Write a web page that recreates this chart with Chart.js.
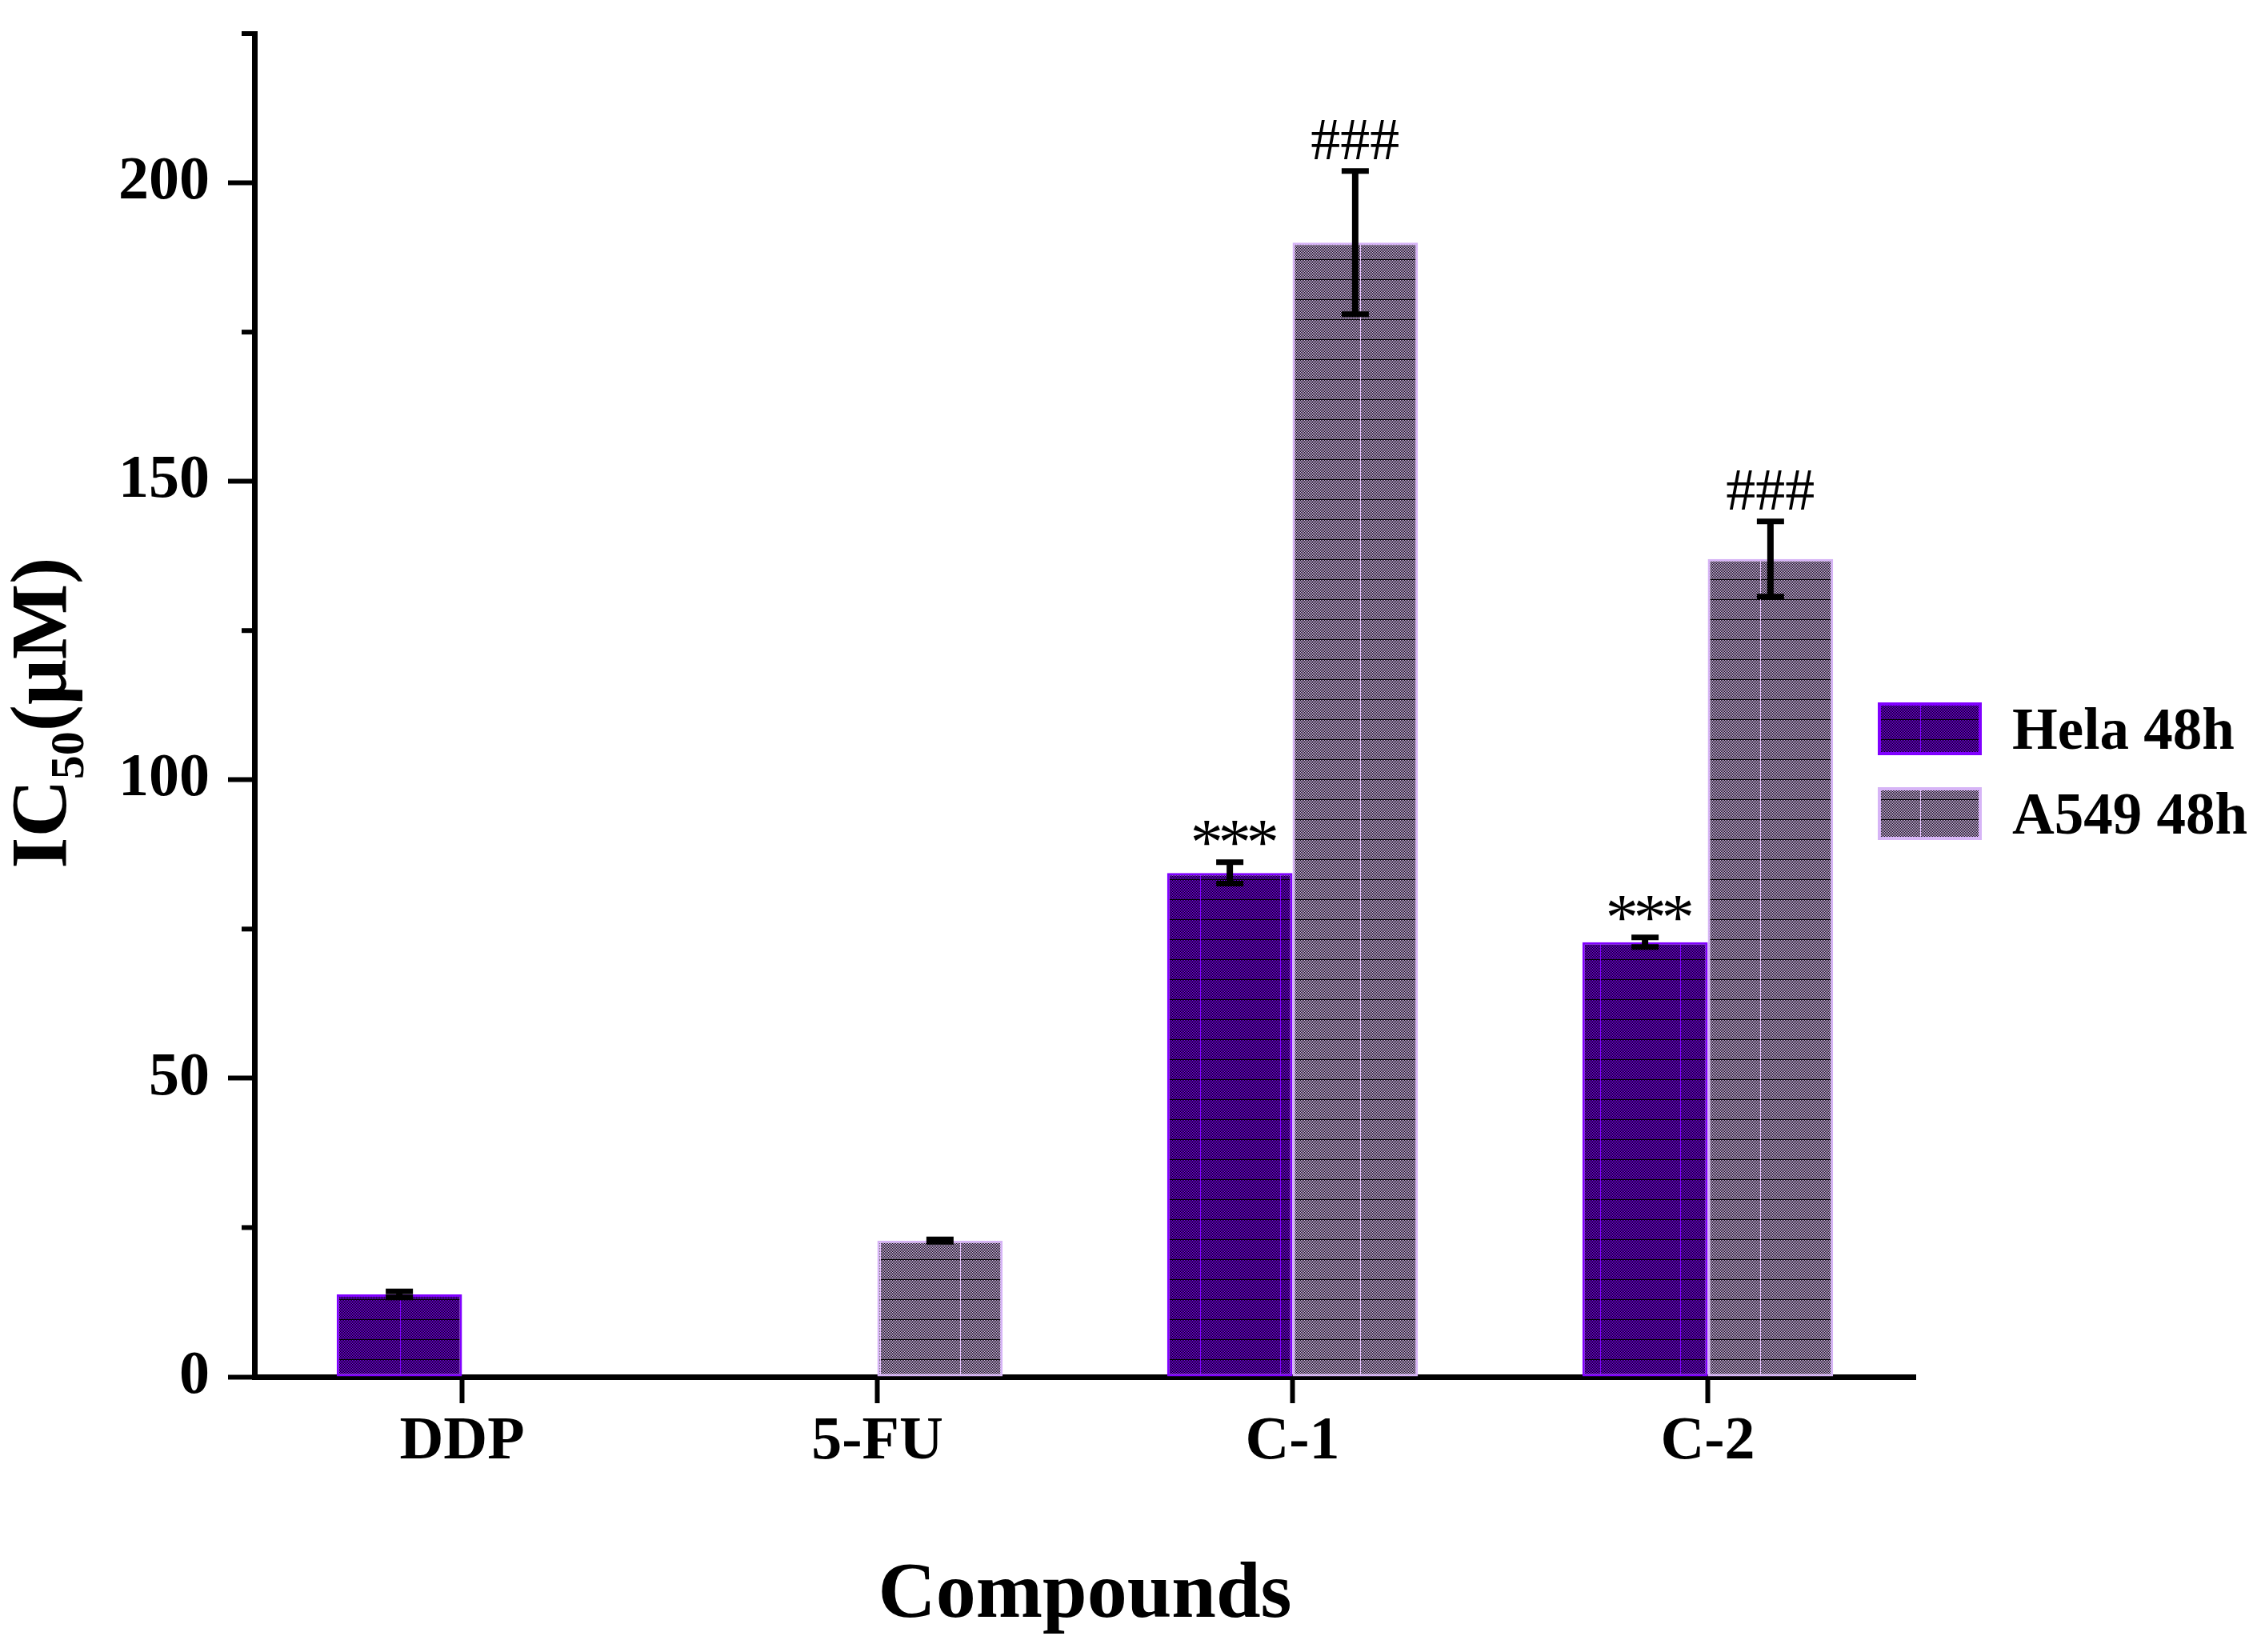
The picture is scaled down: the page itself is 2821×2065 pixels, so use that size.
<!DOCTYPE html>
<html>
<head>
<meta charset="utf-8">
<script src="https://cdn.jsdelivr.net/npm/chart.js@4.4.1/dist/chart.umd.min.js"></script>
<style>
  html, body { margin: 0; padding: 0; background: #fff; }
  #wrap { width: 2821px; height: 2065px; position: relative; }
</style>
</head>
<body>
<div id="wrap"><canvas id="chart"></canvas></div>
<script>
// Chart data
const categories = ['DDP', '5-FU', 'C-1', 'C-2'];
const helaValues = [13.8, null, 84.4, 72.8];
const helaErrors = [0.5, null, 1.8, 0.8];
const a549Values = [null, 22.8, 190, 137];
const a549Errors = [null, 0.2, 12, 6.3];
const helaMarks = ['', '', '***', '***'];
const a549Marks = ['', '', '###', '###'];
const seriesLabels = ['Hela 48h', 'A549 48h'];
const yMax = 225;
const yStep = 25;
const yLabelStep = 50;

const FONT = "'Liberation Serif', 'Times New Roman', serif";

// Dotted fill like the original hatch
function makePattern(base) {
    const c = document.createElement('canvas');
    c.width = 100;
    c.height = 25;
    const g = c.getContext('2d');
    const img = g.createImageData(c.width, c.height);
    for (let y = 0; y < c.height; y++) {
        for (let x = 0; x < c.width; x++) {
            let col = ((x + y) % 2 === 0) ? base : [0, 0, 0];
            if (y === 24) col = [0, 0, 0];
            if (x === 0) col = base;
            const i = (y * c.width + x) * 4;
            img.data[i] = col[0];
            img.data[i + 1] = col[1];
            img.data[i + 2] = col[2];
            img.data[i + 3] = 255;
        }
    }
    g.putImageData(img, 0, 0);
    return g.createPattern(c, 'repeat');
}

const helaFill = makePattern([128, 0, 255]);
const a549Fill = makePattern([230, 196, 255]);
const helaBorder = '#8000ff';
const a549Border = '#d6b4f6';

// Error bars + significance marks
const errorBarPlugin = {
    id: 'errorBars',
    afterDatasetsDraw(chart) {
        const ctx = chart.ctx;
        const yScale = chart.scales.y;
        const sets = [
            { values: helaValues, errors: helaErrors, marks: helaMarks, gap: 13, shift: 19, size: 82, spacing: -6 },
            { values: a549Values, errors: a549Errors, marks: a549Marks, gap: 11, shift: 0, size: 74, spacing: 0 }
        ];
        ctx.save();
        ctx.strokeStyle = '#000';
        ctx.fillStyle = '#000';
        sets.forEach((s, di) => {
            const meta = chart.getDatasetMeta(di);
            meta.data.forEach((bar, j) => {
                const v = s.values[j];
                if (v === null) return;
                const e = s.errors[j];
                const x = bar.x;
                const yTop = yScale.getPixelForValue(v + e);
                const yBot = yScale.getPixelForValue(v - e);
                ctx.lineWidth = 8;
                ctx.beginPath();
                ctx.moveTo(x, yTop);
                ctx.lineTo(x, yBot);
                ctx.stroke();
                ctx.lineWidth = 7;
                ctx.beginPath();
                ctx.moveTo(x - 17, yTop);
                ctx.lineTo(x + 17, yTop);
                ctx.moveTo(x - 17, yBot);
                ctx.lineTo(x + 17, yBot);
                ctx.stroke();
                if (s.marks[j]) {
                    ctx.font = `${s.size}px ${FONT}`;
                    ctx.letterSpacing = `${s.spacing}px`;
                    ctx.textAlign = 'center';
                    ctx.textBaseline = 'alphabetic';
                    ctx.fillText(s.marks[j], x - s.spacing / 2, yTop - 3.5 - s.gap + s.shift);
                    ctx.letterSpacing = '0px';
                }
            });
        });
        ctx.restore();
    }
};

// Minor ticks, y title and legend
const decorPlugin = {
    id: 'decor',
    afterDraw(chart) {
        const ctx = chart.ctx;
        const yScale = chart.scales.y;
        const left = chart.chartArea.left;
        ctx.save();
        ctx.strokeStyle = '#000';
        ctx.lineWidth = 6;
        for (let v = yStep; v <= yMax; v += 2 * yStep) {
            const y = yScale.getPixelForValue(v);
            ctx.beginPath();
            ctx.moveTo(left - 16, y);
            ctx.lineTo(left, y);
            ctx.stroke();
        }

        // y axis title with subscript
        ctx.fillStyle = '#000';
        ctx.translate(82, 891);
        ctx.rotate(-Math.PI / 2);
        ctx.textBaseline = 'alphabetic';
        ctx.textAlign = 'left';
        const big = `bold 100px ${FONT}`;
        const small = `bold 60px ${FONT}`;
        ctx.font = big;
        const w1 = ctx.measureText('IC').width;
        const w3 = ctx.measureText('(μM)').width;
        ctx.font = small;
        const w2 = ctx.measureText('50').width;
        let x = -(w1 + w2 + w3) / 2;
        ctx.font = big;
        ctx.fillText('IC', x, 0);
        x += w1;
        ctx.font = small;
        ctx.fillText('50', x, 22);
        x += w2;
        ctx.font = big;
        ctx.fillText('(μM)', x, 0);
        ctx.restore();

        // legend
        ctx.save();
        const fills = [helaFill, a549Fill];
        const borders = [helaBorder, a549Border];
        const boxTops = [878, 984];
        seriesLabels.forEach((label, i) => {
            ctx.fillStyle = fills[i];
            ctx.fillRect(2347, boxTops[i], 130, 66);
            ctx.strokeStyle = borders[i];
            ctx.lineWidth = 4;
            ctx.strokeRect(2349, boxTops[i] + 2, 126, 62);
            ctx.fillStyle = '#000';
            ctx.font = `bold 73px ${FONT}`;
            ctx.textAlign = 'left';
            ctx.textBaseline = 'alphabetic';
            ctx.fillText(label, 2515, boxTops[i] + 58);
        });
        ctx.restore();
    }
};

const ctx = document.getElementById('chart').getContext('2d');
new Chart(ctx, {
    type: 'bar',
    data: {
        labels: categories,
        datasets: [
            {
                label: seriesLabels[0],
                data: helaValues,
                backgroundColor: helaFill,
                borderColor: helaBorder,
                borderWidth: 3,
                borderSkipped: false
            },
            {
                label: seriesLabels[1],
                data: a549Values,
                backgroundColor: a549Fill,
                borderColor: a549Border,
                borderWidth: 3,
                borderSkipped: false
            }
        ]
    },
    options: {
        responsive: true,
        maintainAspectRatio: false,
        animation: false,
        devicePixelRatio: 1,
        categoryPercentage: 0.604,
        barPercentage: 1,
        layout: {
            padding: { top: 42, right: 427, bottom: 0, left: 0 }
        },
        plugins: {
            legend: { display: false },
            tooltip: { enabled: false }
        },
        scales: {
            x: {
                grid: {
                    offset: false,
                    drawOnChartArea: false,
                    color: '#000',
                    tickLength: 33,
                    tickWidth: 6
                },
                border: { color: '#000', width: 7 },
                ticks: {
                    color: '#000',
                    padding: 4,
                    font: { family: FONT, size: 76, weight: 'bold' }
                },
                title: {
                    display: true,
                    text: 'Compounds',
                    color: '#000',
                    padding: { top: 0, bottom: 10 },
                    font: { family: FONT, size: 100, weight: 'bold' }
                },
                afterFit(scale) {
                    scale.height = 344;
                    scale.paddingLeft = 0;
                    scale.paddingRight = 0;
                }
            },
            y: {
                min: 0,
                max: yMax,
                grid: {
                    drawOnChartArea: false,
                    color: '#000',
                    tickLength: 33,
                    tickWidth: 6
                },
                border: { color: '#000', width: 7 },
                ticks: {
                    stepSize: yStep,
                    color: '#000',
                    padding: 23,
                    font: { family: FONT, size: 76, weight: 'bold' },
                    callback: (v) => (v % yLabelStep === 0 ? String(v) : null)
                },
                afterFit(scale) {
                    scale.width = 318;
                    scale.paddingTop = 0;
                    scale.paddingBottom = 0;
                }
            }
        }
    },
    plugins: [errorBarPlugin, decorPlugin]
});
</script>
</body>
</html>
